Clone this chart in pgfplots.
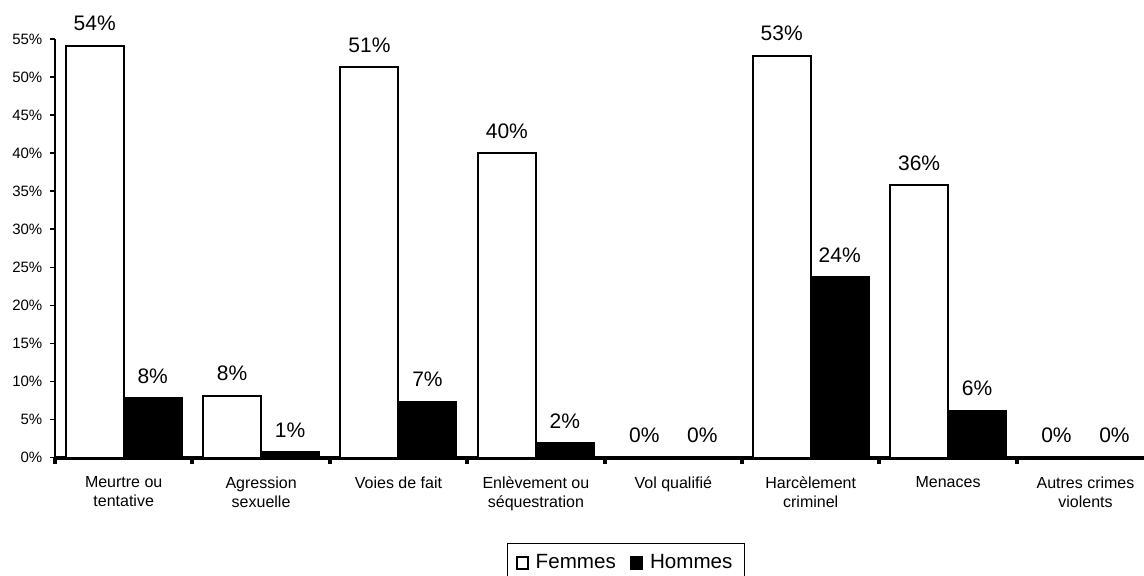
\documentclass[border=0pt]{standalone}
\usepackage{fontspec}
\setmainfont{Liberation Sans}
\usepackage{pgfplots}
\pgfplotsset{compat=1.18}

\begin{document}
\begin{tikzpicture}
\begin{axis}[
    name=ax,
    scale only axis,
    width=544.5pt, height=209.25pt,
    ybar=0pt, bar width=29pt,
    xmin=-0.5, xmax=7.426,
    ymin=0, ymax=55,
    enlargelimits=false,
    clip=false,
    axis x line*=bottom,
    axis y line*=left,
    x axis line style={line width=2pt,-},
    y axis line style={line width=0.75pt,-},
    xtick={0,...,7},
    xticklabels={Meurtre ou\\tentative, Agression\\sexuelle, Voies de fait,
      Enlèvement ou\\séquestration, Vol qualifié, Harcèlement\\criminel,
      Menaces, Autres crimes\\violents},
    major x tick style={draw=none},
    minor xtick={-0.5,0.5,...,6.5},
    minor x tick style={line width=2pt, black},
    minor tick length=3pt,
    ytick={0,5,...,55},
    yticklabel={\pgfmathprintnumber{\tick}\%},
    major y tick style={line width=0.75pt, black},
    major tick length=2.5pt,
    tick align=outside,
    /pgf/number format/assume math mode=true,
    xticklabel style={font=\fontsize{8pt}{9.6pt}\selectfont, align=center, yshift=-3.5pt},
    yticklabel style={font=\fontsize{7.5pt}{9pt}\selectfont, xshift=-0.3pt},
    nodes near coords={\pgfmathprintnumber[fixed,precision=0]{\pgfplotspointmeta}\%},
    every node near coord/.append style={font=\fontsize{10.5pt}{12pt}\selectfont, yshift=3.6pt, black},
    legend columns=2,
    legend style={at={(0.5243,-0.2043)}, anchor=north, draw=black, line width=0.5pt,
      font=\fontsize{10.3pt}{12pt}\selectfont, inner xsep=4pt, inner ysep=3.5pt,
      /tikz/every odd column/.append style={column sep=1.5pt},
      /tikz/every even column/.append style={column sep=5pt}},
    legend image code/.code={\draw[#1,line width=1pt] (0.5pt,-2.8pt) rectangle (6.1pt,2.8pt);},
]
\addplot[draw=black, fill=white, line width=1pt] coordinates {
  (0,54.1) (1,8.1) (2,51.3) (3,40.0) (4,0) (5,52.8) (6,35.8) (7,0)
};
\addplot[draw=black, fill=black, line width=1pt] coordinates {
  (0,7.8) (1,0.7) (2,7.3) (3,1.9) (4,0) (5,23.7) (6,6.15) (7,0)
};
\legend{Femmes, Hommes}
\end{axis}
\pgfresetboundingbox
\path[use as bounding box] ([shift={(-27.5pt,-58.75pt)}]ax.south west)
  rectangle ([shift={(544.5pt,228.75pt)}]ax.south west);
\end{tikzpicture}
\end{document}
